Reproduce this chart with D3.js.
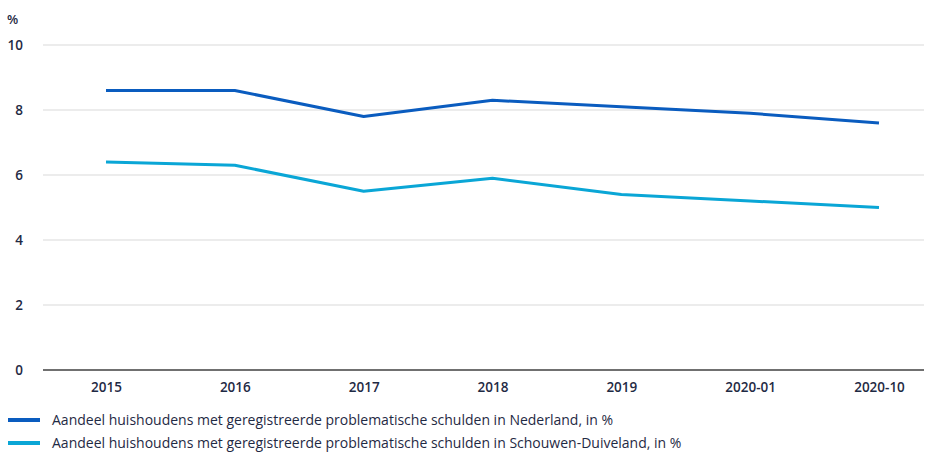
<!DOCTYPE html>
<html>
<head>
<meta charset="utf-8">
<script src="https://cdn.jsdelivr.net/npm/d3@7"></script>
<style>
  body { margin: 0; background: #fff; }
  text { font-family: "Open Sans", sans-serif; fill: #1f2a44; }
</style>
</head>
<body>
<script>
// Data
const categories = ["2015", "2016", "2017", "2018", "2019", "2020-01", "2020-10"];
const nederland = [8.6, 8.6, 7.8, 8.3, 8.1, 7.9, 7.6];
const schouwen = [6.4, 6.3, 5.5, 5.9, 5.4, 5.2, 5.0];
const yTicks = [0, 2, 4, 6, 8, 10];
const legendLabels = [
  "Aandeel huishoudens met geregistreerde problematische schulden in Nederland, in %",
  "Aandeel huishoudens met geregistreerde problematische schulden in Schouwen-Duiveland, in %"
];
const colors = ["#0a5cbf", "#0aa6d6"];

const width = 934, height = 453;
const plotLeft = 43, plotRight = 924, plotTop = 45, plotBottom = 370;

const svg = d3.select("body").append("svg")
  .attr("width", width)
  .attr("height", height);

const x = d3.scalePoint()
  .domain(categories)
  .range([106, 879]);

const y = d3.scaleLinear()
  .domain([0, 10])
  .range([plotBottom, plotTop]);

// gridlines
svg.append("g")
  .selectAll("line")
  .data(yTicks.filter(d => d > 0))
  .enter().append("line")
  .attr("x1", plotLeft)
  .attr("x2", plotRight)
  .attr("y1", d => y(d))
  .attr("y2", d => y(d))
  .attr("stroke", "#d9d9d9")
  .attr("stroke-width", 1);

// baseline
svg.append("line")
  .attr("x1", plotLeft)
  .attr("x2", plotRight)
  .attr("y1", y(0))
  .attr("y2", y(0))
  .attr("stroke", "#707070")
  .attr("stroke-width", 2);

// y tick labels
svg.append("g")
  .selectAll("text")
  .data(yTicks)
  .enter().append("text")
  .attr("x", 23)
  .attr("y", d => y(d) + 5)
  .attr("text-anchor", "end")
  .style("font-size", "13.5px")
  .style("font-weight", "600")
  .text(d => d);

svg.append("text")
  .attr("x", 7)
  .attr("y", 24)
  .style("font-size", "13px")
  .style("font-weight", "600")
  .text("%");

// x axis labels
const xAxis = d3.axisBottom(x).tickSize(0).tickPadding(12);
const gx = svg.append("g")
  .attr("transform", "translate(0," + plotBottom + ")")
  .call(xAxis);
gx.select(".domain").remove();
gx.selectAll("text")
  .style("font-size", "13.5px")
  .style("font-weight", "600")
  .style("font-family", "'Open Sans', sans-serif")
  .attr("fill", "#1f2a44");

// lines
const line = d3.line()
  .x((d, i) => x(categories[i]))
  .y(d => y(d));

[nederland, schouwen].forEach((series, i) => {
  svg.append("path")
    .datum(series)
    .attr("fill", "none")
    .attr("stroke", colors[i])
    .attr("stroke-width", 3)
    .attr("stroke-linejoin", "round")
    .attr("d", line);
});

// legend
const legend = svg.append("g")
  .selectAll("g")
  .data(legendLabels)
  .enter().append("g")
  .attr("transform", (d, i) => "translate(0," + (420 + i * 23) + ")");

legend.append("line")
  .attr("x1", 8)
  .attr("x2", 40)
  .attr("stroke", (d, i) => colors[i])
  .attr("stroke-width", 4);

legend.append("text")
  .attr("x", 52)
  .attr("y", 5)
  .style("font-size", "14px")
  .text(d => d);
</script>
</body>
</html>
